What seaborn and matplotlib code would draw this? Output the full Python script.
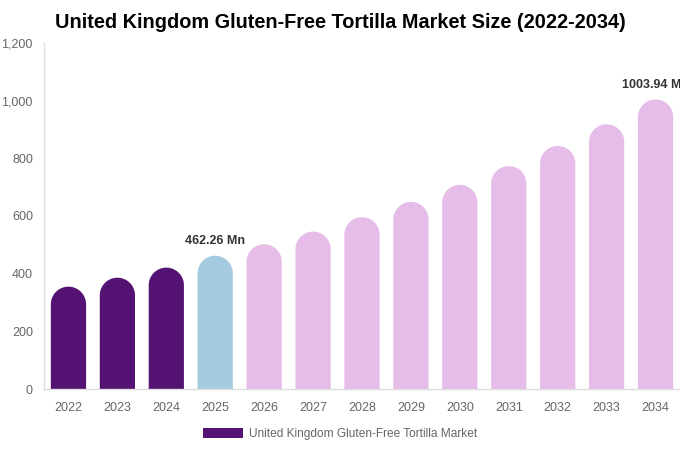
import matplotlib
matplotlib.use("Agg")
import matplotlib.pyplot as plt
import seaborn as sns
import pandas as pd
import numpy as np
from matplotlib.patches import Polygon, Rectangle
from matplotlib.ticker import FuncFormatter

years = ["2022", "2023", "2024", "2025", "2026", "2027", "2028", "2029",
         "2030", "2031", "2032", "2033", "2034"]
values = [355, 386, 421, 462.26, 502, 546, 596, 649, 708, 773, 843, 918, 1003.94]
phase = ["history"] * 3 + ["base"] + ["forecast"] * 9
palette = {"history": "#541272", "base": "#A4CBDF", "forecast": "#E6BCE8"}
value_labels = {3: "462.26 Mn", 12: "1003.94 Mn"}
title = "United Kingdom Gluten-Free Tortilla Market Size (2022-2034)"
series_name = "United Kingdom Gluten-Free Tortilla Market"

sns.set_theme(style="white")
plt.rcParams['font.family'] = ['Liberation Sans', 'DejaVu Sans']

W, H = 680, 450
fig = plt.figure(figsize=(W / 100, H / 100), dpi=100)
ax_l, ax_b, ax_w, ax_h = 44, 61, 636, 346
ax = fig.add_axes([ax_l / W, ax_b / H, ax_w / W, ax_h / H])

df = pd.DataFrame({"year": years, "value": values, "phase": phase})
sns.barplot(data=df, x="year", y="value", hue="phase", palette=palette,
            dodge=False, width=0.72, legend=False, linewidth=0,
            saturation=1, ax=ax)

ax.set_ylim(0, 1200)
ax.set_xlim(-0.5, len(years) - 0.5)

# replace each bar with a shape having a fully rounded top
xspan = ax.get_xlim()[1] - ax.get_xlim()[0]
yspan = ax.get_ylim()[1] - ax.get_ylim()[0]
theta = np.linspace(0, np.pi, 60)
for p in list(ax.patches):
    h = p.get_height()
    if not h or h != h:
        continue
    x0, w = p.get_x(), p.get_width()
    ry = (w / 2) * (yspan / ax_h) / (xspan / ax_w)
    cx, cy = x0 + w / 2, h - ry
    arc = np.column_stack([cx + (w / 2) * np.cos(theta), cy + ry * np.sin(theta)])
    pts = np.vstack([[x0 + w, 0], arc, [x0, 0]])
    poly = Polygon(pts, closed=True, facecolor=p.get_facecolor(), linewidth=0)
    p.remove()
    ax.add_patch(poly)

for i, txt in value_labels.items():
    ax.annotate(txt, (i, values[i]), xytext=(0, 6), textcoords="offset points",
                ha="center", va="bottom", fontsize=9, fontweight="bold",
                color="#333333", annotation_clip=False)

ax.set_xlabel("")
ax.set_ylabel("")
ax.set_yticks([0, 200, 400, 600, 800, 1000, 1200])
ax.yaxis.set_major_formatter(FuncFormatter(lambda v, _: f"{int(v):,}"))
ax.tick_params(axis="both", length=0, labelsize=9, labelcolor="#666666")
ax.tick_params(axis="y", pad=8)
ax.tick_params(axis="x", pad=9.5)
for s in ["top", "right"]:
    ax.spines[s].set_visible(False)
for s in ["left", "bottom"]:
    ax.spines[s].set_color("#dddddd")
    ax.spines[s].set_linewidth(1)

fig.text(340 / W, 1 - 22 / H, title, ha="center", va="center",
         fontsize=14.3, fontweight="bold", color="#000000")

handle = Rectangle((0, 0), 1, 1, facecolor=palette["history"], linewidth=0)
fig.legend([handle], [series_name], loc="center", bbox_to_anchor=(340 / W, 1 - 434 / H),
           frameon=False, fontsize=8.6, handlelength=3.3, handleheight=1.0,
           handletextpad=0.5, labelcolor="#666666")

fig.savefig("out.png", dpi=100)
